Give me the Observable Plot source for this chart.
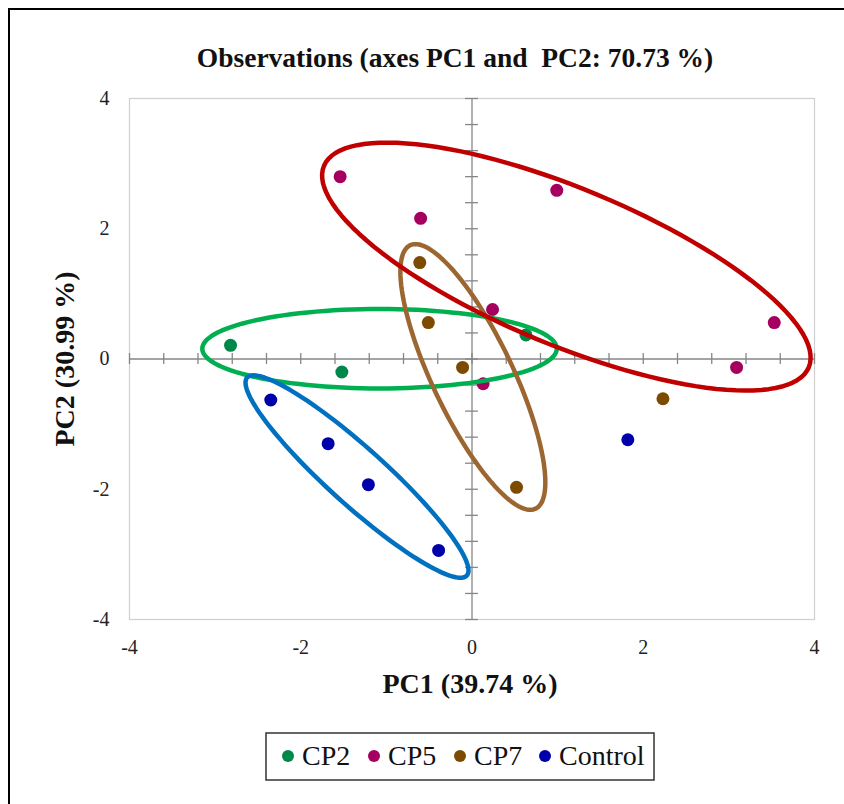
<!DOCTYPE html>
<html>
<head>
<meta charset="utf-8">
<script src="https://cdn.jsdelivr.net/npm/d3@7"></script>
<script src="https://cdn.jsdelivr.net/npm/@observablehq/plot@0.6"></script>
<style>
  html, body { margin: 0; padding: 0; background: #fff; overflow: hidden; }
  #wrap { position: relative; width: 844px; height: 804px; overflow: hidden; }
  #border { position: absolute; left: 8px; top: 8px; width: 900px; height: 900px; border: 2px solid #000; box-sizing: border-box; }
  #chart { position: absolute; left: 0; top: 0; }
  #overlay { position: absolute; left: 0; top: 0; pointer-events: none; }
</style>
</head>
<body>
<div id="wrap">
  <div id="border"></div>
  <div id="chart"></div>
  <svg id="overlay" width="844" height="804"></svg>
</div>
<script>
// ---- data ----
const groups = ["CP2", "CP5", "CP7", "Control"];
const groupColors = ["#00874a", "#a5005f", "#7d4b00", "#0000aa"];
const ellipseColors = ["#00b050", "#c00000", "#9c6630", "#0070c0"];

const obsGroup = ["CP2", "CP2", "CP2",
  "CP5", "CP5", "CP5", "CP5", "CP5", "CP5", "CP5",
  "CP7", "CP7", "CP7", "CP7", "CP7",
  "Control", "Control", "Control", "Control", "Control"];
const obsPC1 = [-2.82, -1.52, 0.63,
  -1.54, -0.60, 0.99, 0.24, 3.53, 3.09, 0.13,
  -0.61, -0.51, -0.11, 0.52, 2.23,
  -2.35, -1.68, -1.21, -0.39, 1.82];
const obsPC2 = [0.21, -0.20, 0.37,
  2.80, 2.16, 2.59, 0.76, 0.56, -0.13, -0.38,
  1.48, 0.56, -0.13, -1.97, -0.61,
  -0.63, -1.30, -1.93, -2.94, -1.24];

// ellipses: centre and two conjugate semi-axis vectors (data units)
const ellGroup = ["CP2", "CP7", "Control", "CP5"];
const ellCX = [-1.08, 0.01, -1.343, 1.102];
const ellCY = [0.158, -0.276, -1.805, 1.419];
const ellAX = [2.07, 0.732, 1.283, 2.831];
const ellAY = [0.0, -2.023, -1.520, -1.547];
const ellBX = [0.0, -0.425, -0.223, -0.352];
const ellBY = [0.61, -0.265, -0.325, -1.109];

const xTicks = [-4, -2, 0, 2, 4];
const yTicks = [-4, -2, 0, 2, 4];
const minorTicks = d3.range(0, 21).map(i => +(-4 + i * 0.4).toFixed(1));

const titleText = "Observations (axes PC1 and  PC2: 70.73 %)";
const xLabel = "PC1 (39.74 %)";
const yLabel = "PC2 (30.99 %)";

// ---- build tables ----
const observations = obsGroup.map((g, i) => ({group: g, pc1: obsPC1[i], pc2: obsPC2[i]}));
const nSeg = 120;
const ellipseMarks = ellGroup.map((g, k) => {
  const pts = d3.range(nSeg).map(j => {
    const t = 2 * Math.PI * j / nSeg;
    return {x: ellCX[k] + ellAX[k] * Math.cos(t) + ellBX[k] * Math.sin(t),
            y: ellCY[k] + ellAY[k] * Math.cos(t) + ellBY[k] * Math.sin(t)};
  });
  return Plot.line(pts, {x: "x", y: "y", stroke: ellipseColors[groups.indexOf(g)], strokeWidth: 4.5, curve: "linear-closed"});
});

const fmt = d => String(d);
const plot = Plot.plot({
  width: 844,
  height: 804,
  marginLeft: 129,
  marginRight: 30,
  marginTop: 98,
  marginBottom: 185,
  style: {background: "transparent", fontFamily: "'Liberation Serif', 'Times New Roman', serif", color: "#222"},
  x: {domain: [-4, 4]},
  y: {domain: [-4, 4]},
  color: {domain: groups, range: groupColors},
  marks: [
    Plot.frame({stroke: "#cfcfcf", strokeWidth: 1.2}),
    Plot.ruleY([0], {stroke: "#868686", strokeWidth: 1.3}),
    Plot.ruleX([0], {stroke: "#868686", strokeWidth: 1.3}),
    Plot.ruleX(minorTicks, {x: d => d, y1: -0.085, y2: 0.085, stroke: "#868686", strokeWidth: 1.3}),
    Plot.ruleY(minorTicks, {y: d => d, x1: -0.075, x2: 0.075, stroke: "#868686", strokeWidth: 1.3}),
    Plot.axisX(xTicks, {tickSize: 0, tickPadding: 20, fontSize: 20, label: null, tickFormat: fmt}),
    Plot.axisY(yTicks, {tickSize: 0, tickPadding: 20, fontSize: 20, label: null, tickFormat: fmt}),
    Plot.dot(observations, {x: "pc1", y: "pc2", fill: "group", r: 6.5}),
    ...ellipseMarks
  ]
});
document.getElementById("chart").appendChild(plot);

// ---- title, axis labels, legend ----
const ov = d3.select("#overlay");
const serif = "'Liberation Serif', 'Times New Roman', serif";
ov.append("text").attr("x", 455).attr("y", 67).attr("text-anchor", "middle")
  .attr("font-family", serif).attr("font-weight", "bold").attr("font-size", 27.5).attr("fill", "#111")
  .attr("xml:space", "preserve").style("white-space", "pre").text(titleText);
ov.append("text").attr("x", 470).attr("y", 693).attr("text-anchor", "middle")
  .attr("font-family", serif).attr("font-weight", "bold").attr("font-size", 28).attr("fill", "#111")
  .text(xLabel);
ov.append("text").attr("transform", "translate(74,359) rotate(-90)").attr("text-anchor", "middle")
  .attr("font-family", serif).attr("font-weight", "bold").attr("font-size", 28).attr("fill", "#111")
  .text(yLabel);

const lg = ov.append("g");
lg.append("rect").attr("x", 266).attr("y", 733).attr("width", 388).attr("height", 47)
  .attr("fill", "#fff").attr("stroke", "#333").attr("stroke-width", 1.5);
const legendX = [288, 374, 460, 545];
groups.forEach((g, i) => {
  lg.append("circle").attr("cx", legendX[i]).attr("cy", 756).attr("r", 6).attr("fill", groupColors[i]);
  lg.append("text").attr("x", legendX[i] + 14).attr("y", 765)
    .attr("font-family", serif).attr("font-size", 28).attr("fill", "#111").text(g);
});
</script>
</body>
</html>
